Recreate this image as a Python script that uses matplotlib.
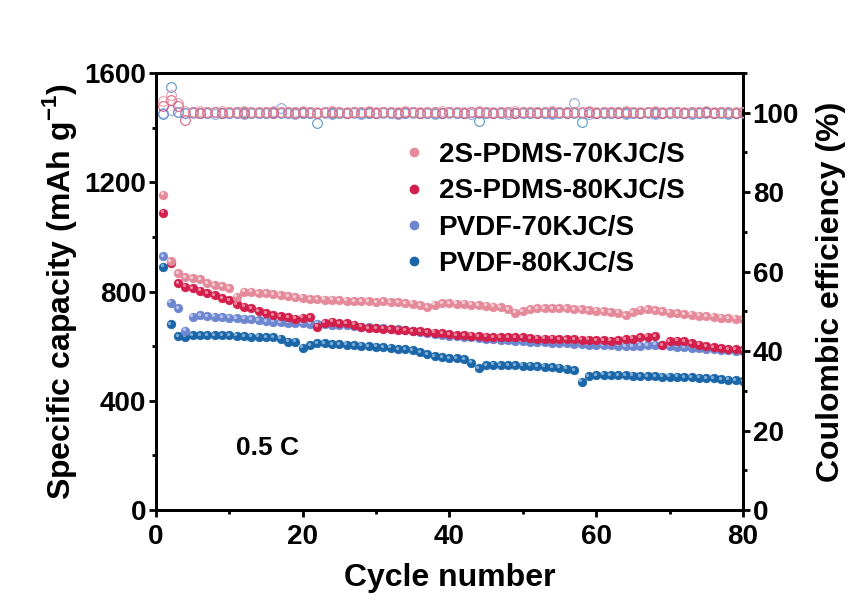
import matplotlib
matplotlib.use('Agg')
import matplotlib.pyplot as plt
import matplotlib.transforms as mtransforms
from matplotlib.lines import Line2D
from matplotlib.ticker import MultipleLocator

plt.rcParams['font.family'] = ['Liberation Sans', 'DejaVu Sans']
plt.rcParams['font.weight'] = 'bold'
plt.rcParams['mathtext.fontset'] = 'custom'
plt.rcParams['mathtext.rm'] = 'Liberation Sans:bold'
plt.rcParams['mathtext.bf'] = 'Liberation Sans:bold'

# cycle numbers 1..80
cycles = list(range(1, 81))

labels = ['2S-PDMS-70KJC/S', '2S-PDMS-80KJC/S', 'PVDF-70KJC/S', 'PVDF-80KJC/S']

# specific capacity (mAh g-1)
cap_pdms70 = [1155, 912, 868, 853, 849, 846, 831, 824, 820, 813,
              781, 800, 800, 795, 794, 790, 786, 782, 780, 778,
              773, 772, 770, 770, 769, 766, 765, 765, 764, 762,
              765, 762, 760, 758, 756, 750, 742, 752, 757, 757,
              755, 755, 752, 750, 748, 745, 742, 735, 723, 728,
              735, 738, 740, 740, 738, 738, 735, 735, 732, 730,
              728, 725, 722, 714, 725, 733, 735, 732, 728, 722,
              720, 718, 715, 712, 710, 708, 705, 702, 700, 698]
cap_pdms80 = [1089, 905, 830, 818, 813, 803, 794, 787, 776, 769,
              754, 745, 739, 727, 720, 714, 710, 706, 700, 704,
              706, 671, 686, 690, 684, 684, 678, 671, 666, 666,
              664, 662, 660, 658, 656, 654, 652, 650, 647, 644,
              641, 640, 638, 636, 635, 634, 633, 632, 632, 632,
              630, 628, 628, 627, 626, 626, 625, 624, 624, 622,
              622, 620, 622, 626, 628, 632, 635, 636, 604, 618,
              620, 618, 612, 606, 600, 596, 592, 590, 588, 586]
cap_pvdf70 = [930, 759, 740, 657, 708, 714, 710, 708, 706, 704,
              702, 700, 698, 695, 692, 690, 688, 686, 685, 684,
              683, 682, 680, 679, 678, 676, 674, 672, 670, 668,
              666, 664, 662, 660, 656, 652, 648, 645, 640, 638,
              636, 634, 632, 630, 628, 626, 624, 622, 620, 618,
              616, 615, 614, 612, 611, 610, 609, 608, 606, 605,
              604, 603, 602, 601, 600, 602, 604, 605, 603, 600,
              598, 596, 594, 592, 590, 588, 586, 585, 584, 582]
cap_pvdf80 = [891, 681, 637, 635, 641, 641, 640, 640, 641, 640,
              638, 637, 635, 635, 633, 632, 628, 617, 617, 595,
              604, 611, 610, 608, 608, 605, 604, 602, 600, 598,
              596, 594, 590, 588, 585, 578, 570, 564, 560, 556,
              555, 552, 540, 520, 530, 532, 531, 530, 530, 529,
              528, 527, 525, 524, 522, 518, 512, 470, 490, 494,
              495, 494, 494, 493, 492, 491, 490, 490, 489, 488,
              488, 487, 486, 485, 484, 483, 480, 478, 476, 472]

# coulombic efficiency (%)
ce_pdms70 = [102.9, 104.5, 102.4, 100.5, 100.3, 100.4, 100.2, 100.3, 100.4, 100.3,
             100.2, 100.4, 100.3, 100.3, 100.2, 100.4, 100.3, 100.2, 100.3, 100.4,
             100.3, 100.2, 100.3, 100.4, 100.3, 100.2, 100.3, 100.3, 100.4, 100.2,
             100.3, 100.3, 100.2, 100.4, 100.3, 100.3, 100.2, 100.3, 100.4, 100.3,
             100.2, 100.3, 100.3, 100.4, 100.2, 100.3, 100.3, 100.2, 100.4, 100.3,
             100.3, 100.2, 100.3, 100.4, 100.3, 100.2, 100.3, 100.3, 100.4, 100.2,
             100.3, 100.3, 100.2, 100.4, 100.3, 100.2, 100.3, 100.4, 100.3, 100.2,
             100.3, 100.3, 100.2, 100.3, 100.4, 100.3, 100.2, 100.3, 100.3, 100.2]
ce_pdms80 = [101.6, 103.2, 101.8, 98.1, 100.1, 100.0, 100.2, 100.1, 100.0, 100.1,
             100.2, 100.0, 100.1, 100.1, 100.2, 100.0, 100.1, 100.1, 100.0, 100.2,
             100.1, 100.0, 100.1, 100.2, 100.1, 100.0, 100.1, 100.1, 100.2, 100.0,
             100.1, 100.2, 100.0, 100.1, 100.1, 100.0, 100.2, 100.1, 100.0, 100.1,
             100.1, 100.0, 100.2, 100.1, 100.1, 100.0, 100.1, 100.2, 100.0, 100.1,
             100.1, 100.0, 100.1, 100.2, 100.1, 100.0, 100.1, 100.1, 100.2, 100.0,
             100.1, 100.2, 100.0, 100.1, 100.1, 100.0, 100.2, 100.1, 100.0, 100.1,
             100.1, 100.0, 100.1, 100.2, 100.1, 100.0, 100.1, 100.1, 100.0, 100.1]
ce_pvdf70 = [99.9, 100.8, 100.3, 99.9, 100.0, 99.9, 100.0, 99.8, 99.9, 100.0,
             99.9, 99.8, 100.0, 99.9, 99.9, 100.0, 101.2, 99.9, 99.8, 100.0,
             99.9, 99.9, 100.0, 99.8, 99.9, 100.0, 99.9, 99.8, 99.9, 100.0,
             99.9, 100.0, 99.8, 99.9, 99.9, 100.0, 99.9, 99.8, 100.0, 99.9,
             99.9, 100.0, 99.8, 99.9, 100.0, 99.9, 99.9, 99.8, 100.0, 99.9,
             99.9, 100.0, 99.9, 99.8, 99.9, 100.0, 102.4, 99.9, 99.8, 100.0,
             99.9, 99.9, 100.0, 99.8, 99.9, 100.0, 99.9, 99.8, 99.9, 100.0,
             99.9, 100.0, 99.8, 99.9, 99.9, 100.0, 99.9, 99.8, 100.0, 99.9]
ce_pvdf80 = [99.6, 106.5, 100.2, 100.0, 100.1, 99.9, 100.0, 100.1, 100.0, 99.9,
             100.0, 100.1, 99.9, 100.0, 100.0, 100.1, 99.9, 100.0, 100.1, 100.0,
             99.9, 97.4, 100.1, 100.0, 99.9, 100.0, 100.1, 100.0, 99.9, 100.0,
             100.1, 100.0, 99.9, 100.0, 100.1, 100.0, 99.9, 100.0, 100.0, 100.1,
             99.9, 100.0, 100.1, 97.8, 100.0, 99.9, 100.0, 100.1, 100.0, 99.9,
             100.0, 100.1, 99.9, 100.0, 100.0, 100.1, 99.9, 97.6, 100.1, 100.0,
             99.9, 100.0, 100.1, 100.0, 99.9, 100.0, 100.1, 100.0, 99.9, 100.0,
             100.1, 100.0, 99.9, 100.0, 100.1, 100.0, 99.9, 100.0, 100.0, 100.1]

ball_colors = ['#E48A9A', '#D21F4B', '#6D86D0', '#1A66A8']
ball_lights = ['#F7D3D9', '#F291A8', '#BCC9EF', '#86B6DD']
ring_colors = ['#E8909E', '#D64A6A', '#7D97D8', '#3A85BF']

fig = plt.figure(figsize=(8.52, 6.03), dpi=100)
ax = fig.add_axes([0.183, 0.154, 0.689, 0.725])
ax2 = ax.twinx()


def draw_balls(axis, x, y, color, light, z):
    # solid ball + a small offset highlight to give the shaded sphere look
    axis.plot(x, y, 'o', ms=6.4, mfc=color, mec=color, mew=0.3, ls='none', zorder=z)
    shift = mtransforms.offset_copy(axis.transData, fig=fig, x=-1.0, y=1.0, units='points')
    axis.plot(x, y, 'o', ms=2.4, mfc=light, mec='none', ls='none', alpha=0.9,
              transform=shift, zorder=z + 0.5)


caps = [cap_pdms70, cap_pdms80, cap_pvdf70, cap_pvdf80]
ces = [ce_pdms70, ce_pdms80, ce_pvdf70, ce_pvdf80]

# draw order: dark blue, light blue, red, pink (pink ends up on top)
for i, z in zip([3, 2, 1, 0], [2, 3, 4, 5]):
    draw_balls(ax, cycles, caps[i], ball_colors[i], ball_lights[i], z)
    ax2.plot(cycles, ces[i], 'o', ms=7.0, mfc='none', mec=ring_colors[i], mew=0.8,
             alpha=0.85, ls='none', zorder=z)

ax.set_xlim(0, 80)
ax.set_ylim(0, 1600)
ax2.set_ylim(0, 110)

ax.xaxis.set_major_locator(MultipleLocator(20))
ax.xaxis.set_minor_locator(MultipleLocator(10))
ax.yaxis.set_major_locator(MultipleLocator(400))
ax.yaxis.set_minor_locator(MultipleLocator(200))
ax2.yaxis.set_major_locator(MultipleLocator(20))
ax2.yaxis.set_minor_locator(MultipleLocator(10))

for a in (ax, ax2):
    for s in a.spines.values():
        s.set_linewidth(2.0)
    a.tick_params(which='major', direction='out', length=5, width=2.0, labelsize=20, pad=2)
    a.tick_params(which='minor', direction='out', length=3, width=2.0)
ax.tick_params(top=False, right=False, which='both')
ax.tick_params(axis='x', pad=5)

ax.set_xlabel('Cycle number', fontsize=23, fontweight='bold', labelpad=9)
ax.set_ylabel(r'Specific capacity (mAh g$^{-1}$)', fontsize=23, fontweight='bold', labelpad=4)
ax2.set_ylabel('Coulombic efficiency (%)', fontsize=23, fontweight='bold', labelpad=12)

ax.text(0.136, 0.142, '0.5 C', transform=ax.transAxes, fontsize=19, fontweight='bold',
        va='center', ha='left')

handles = [Line2D([], [], marker='o', ls='none', ms=6, mfc=ball_colors[i], mec=ball_colors[i])
           for i in range(4)]
ax2.legend(handles, labels, loc='upper left', bbox_to_anchor=(0.42, 0.842), frameon=False,
           fontsize=20, handlelength=0.8, handletextpad=0.5, labelspacing=0.37,
           borderpad=0, borderaxespad=0)

fig.savefig('out.png', dpi=100)
